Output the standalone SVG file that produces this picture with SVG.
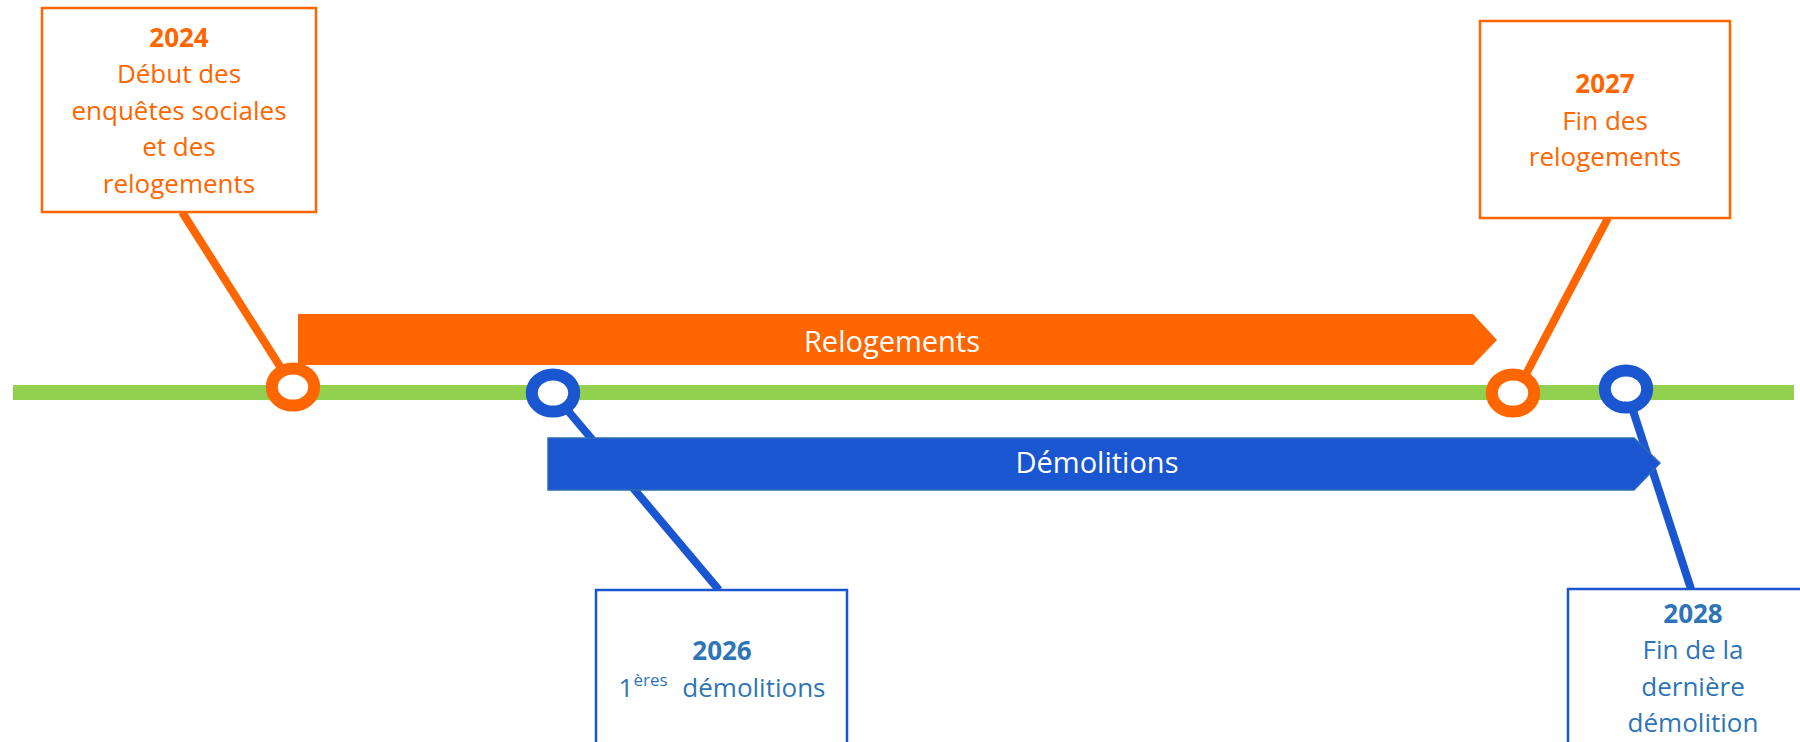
<svg xmlns="http://www.w3.org/2000/svg" width="1800" height="742" viewBox="0 0 1800 742">
<style>
.box-o{fill:#fff;stroke:#FF6600;stroke-width:2.5}
.box-b{fill:#fff;stroke:#1A56CF;stroke-width:2.5}
.t{font-family:"Open Sans","Liberation Sans",sans-serif;font-size:26px;text-anchor:middle}
.yr{font-weight:bold;font-size:26px}
.to{fill:#FF6600}
.tb{fill:#2E75B6}
.bar-t{font-family:"Open Sans","Liberation Sans",sans-serif;font-size:29px;fill:#fff;text-anchor:middle}
.c-o{stroke:#FF6600;stroke-width:8;fill:none}
.c-b{stroke:#1A56CF;stroke-width:8;fill:none}
.m-o{fill:#fff;stroke:#FF6600;stroke-width:12}
.m-b{fill:#fff;stroke:#1A56CF;stroke-width:12}
</style>
<rect width="1800" height="742" fill="#fff"/>
<rect id="timeline" x="13" y="385" width="1781" height="15" fill="#92D050"/>
<g id="connectors">
<line class="c-o" x1="182" y1="212" x2="293" y2="387"/>
<line class="c-o" x1="1608" y1="218" x2="1516" y2="393"/>
<line class="c-b" x1="553" y1="393" x2="719" y2="590"/>
<line class="c-b" x1="1626" y1="389" x2="1691" y2="589"/>
</g>
<g id="bar-relogements">
<polygon points="298,314 1473,314 1497,340 1473,365 298,365" fill="#FF6600"/>
<text class="bar-t" x="892" y="352">Relogements</text>
</g>
<g id="bar-demolitions">
<polygon points="548,438 1634,438 1660,463 1634,490 548,490" fill="#1A56CF" stroke="#2E6DB4" stroke-width="1.5"/>
<text class="bar-t" x="1097" y="473">Démolitions</text>
</g>
<g id="markers">
<ellipse class="m-o" cx="293" cy="387" rx="21.2" ry="18.6"/>
<ellipse class="m-b" cx="553" cy="393" rx="21.2" ry="18.6"/>
<ellipse class="m-o" cx="1513" cy="393" rx="21.2" ry="18.6"/>
<ellipse class="m-b" cx="1626" cy="389" rx="21.2" ry="18.6"/>
</g>
<g id="node-2024">
<rect class="box-o" x="42" y="8" width="274" height="204"/>
<text class="t to" x="179"><tspan class="yr" x="179" y="47">2024</tspan><tspan x="179" y="83">Début des</tspan><tspan x="179" y="120">enquêtes sociales</tspan><tspan x="179" y="156">et des</tspan><tspan x="179" y="193">relogements</tspan></text>
</g>
<g id="node-2027">
<rect class="box-o" x="1480" y="21" width="250" height="197"/>
<text class="t to" x="1605"><tspan class="yr" x="1605" y="93">2027</tspan><tspan x="1605" y="130">Fin des</tspan><tspan x="1605" y="166">relogements</tspan></text>
</g>
<g id="node-2026">
<rect class="box-b" x="596" y="590" width="251" height="170"/>
<text class="t tb yr" x="722" y="660">2026</text>
<text class="t tb" x="722" y="697">1<tspan font-size="17" dy="-11">ères</tspan><tspan dy="11" dx="8"> démolitions</tspan></text>
</g>
<g id="node-2028">
<rect class="box-b" x="1568" y="589" width="250" height="170"/>
<text class="t tb" x="1693"><tspan class="yr" x="1693" y="623">2028</tspan><tspan x="1693" y="659">Fin de la</tspan><tspan x="1693" y="696">dernière</tspan><tspan x="1693" y="732">démolition</tspan></text>
</g>
</svg>
